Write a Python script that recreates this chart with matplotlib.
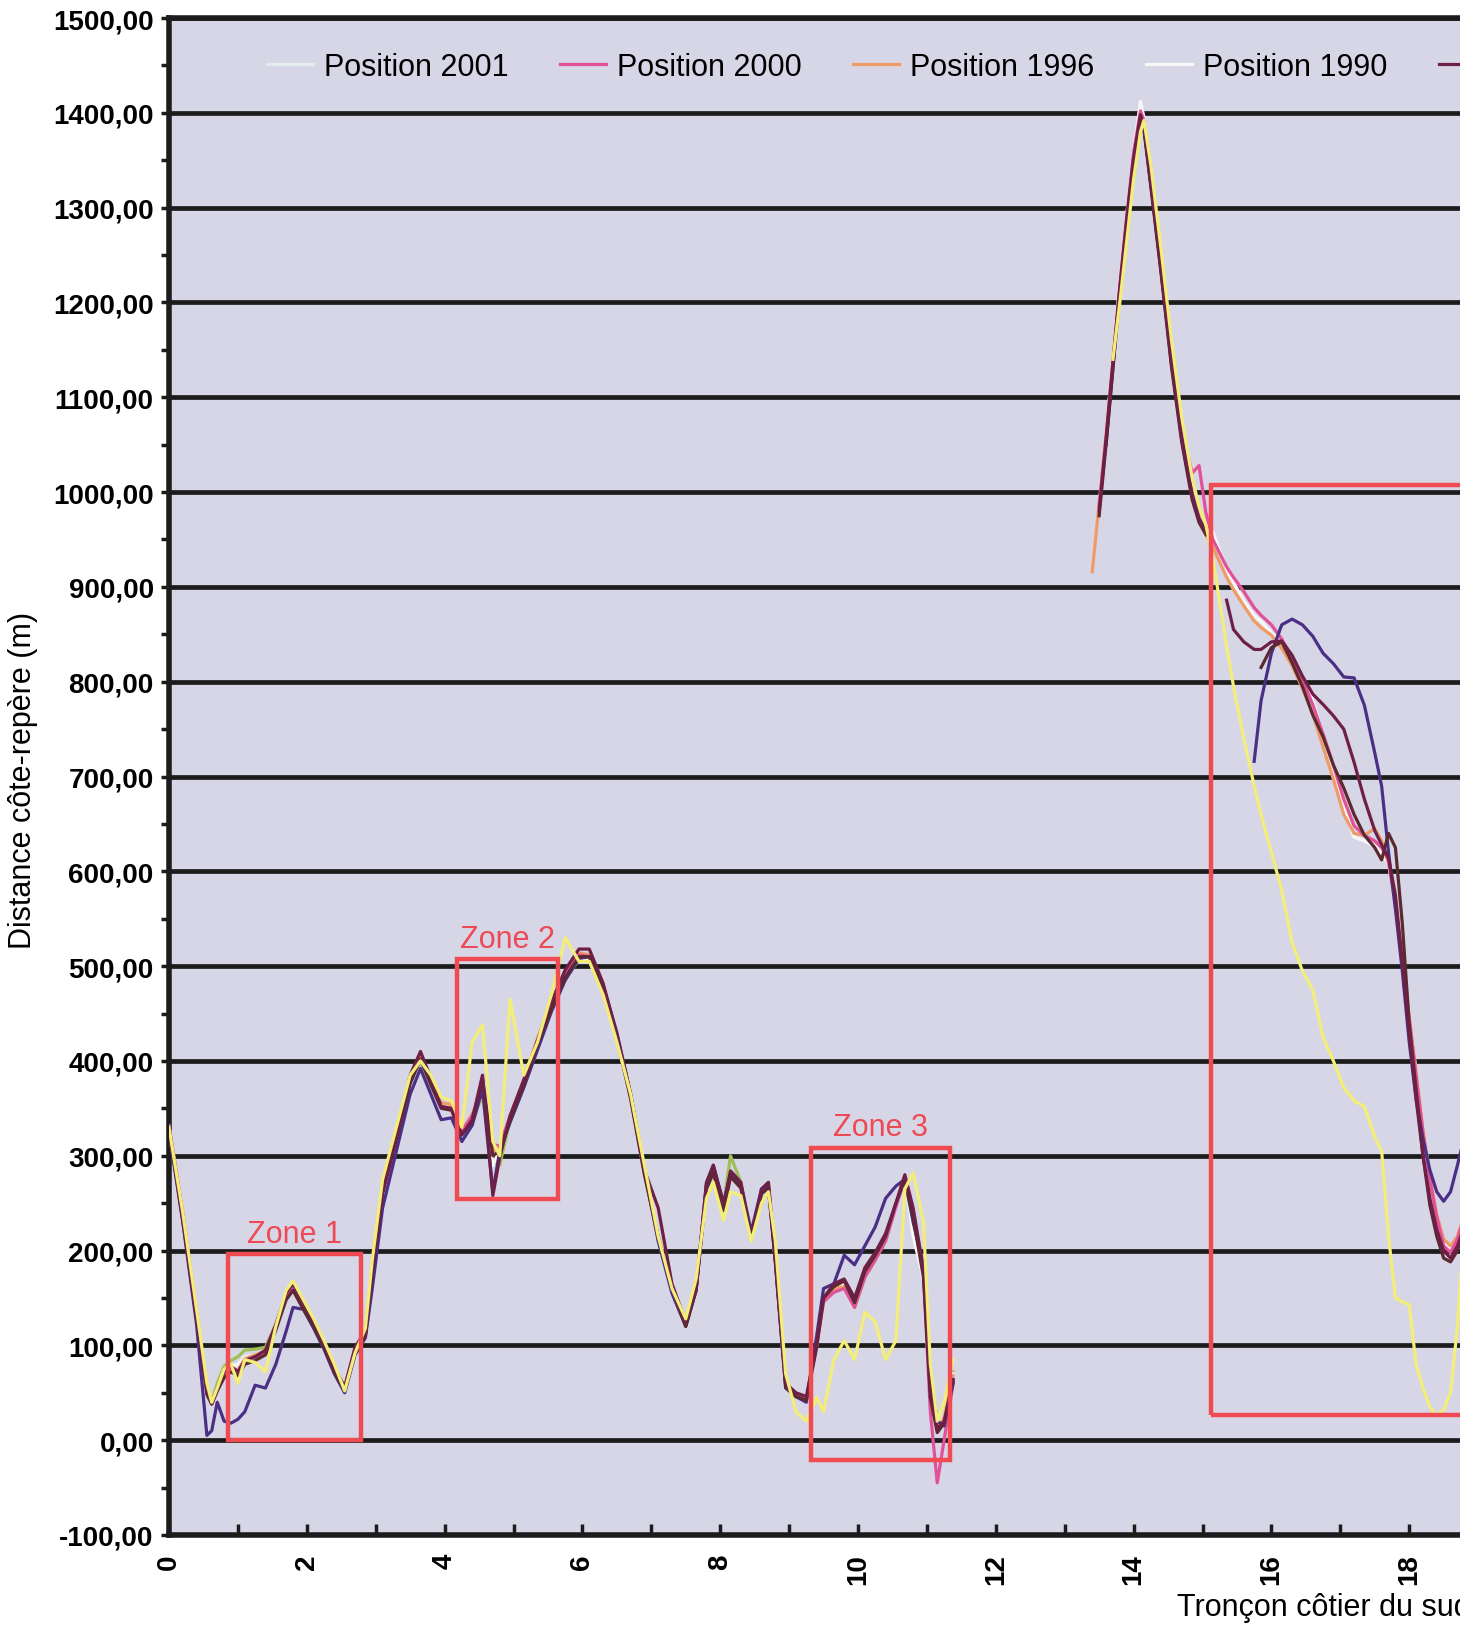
import numpy as np
import matplotlib
matplotlib.use("Agg")
import matplotlib.pyplot as plt
from matplotlib.patches import Rectangle
from matplotlib.ticker import MultipleLocator

plt.rcParams['font.family'] = ['Liberation Sans', 'DejaVu Sans']

# ---- data ----
# first stretch of coast (0 - 11.4)
x1 = [0.0, 0.2, 0.4, 0.55, 0.62, 0.7, 0.8, 0.9, 1.0, 1.1,
      1.25, 1.4, 1.55, 1.7, 1.8, 1.95, 2.1, 2.25, 2.4, 2.55,
      2.7, 2.85, 2.95, 3.1, 3.3, 3.5, 3.65, 3.8, 3.95, 4.1,
      4.25, 4.4, 4.55, 4.7, 4.8, 4.95, 5.15, 5.35, 5.55, 5.75,
      5.95, 6.1, 6.3, 6.5, 6.7, 6.9, 7.1, 7.3, 7.5, 7.65,
      7.8, 7.9, 8.05, 8.15, 8.3, 8.45, 8.6, 8.7, 8.8, 8.95,
      9.1, 9.25, 9.4, 9.5, 9.65, 9.8, 9.95, 10.1, 10.25, 10.4,
      10.55, 10.68, 10.8, 10.95, 11.05, 11.15, 11.25, 11.38]

pos2001_a = [330, 236, 130, 50, 38, 52, 72, 80, 78, 86,
             90, 93, 118, 150, 158, 140, 122, 100, 75, 55,
             95, 112, 178, 265, 322, 380, 403, 376, 354, 352,
             325, 340, 365, 300, 305, 340, 378, 420, 458, 490,
             508, 508, 476, 424, 362, 282, 212, 158, 122, 160,
             266, 283, 244, 280, 266, 218, 262, 268, 190, 58,
             48, 44, 100, 148, 160, 164, 144, 174, 192, 212,
             248, 276, 230, 172, 48, 14, 24, 68]
pos2000_a = [332, 240, 135, 52, 38, 52, 70, 76, 72, 84,
             88, 92, 120, 152, 160, 142, 124, 100, 76, 56,
             96, 112, 182, 268, 325, 382, 402, 376, 352, 350,
             326, 342, 372, 312, 310, 342, 380, 422, 460, 492,
             512, 510, 476, 424, 362, 282, 212, 158, 124, 162,
             266, 282, 244, 278, 266, 218, 260, 266, 190, 60,
             48, 44, 100, 146, 156, 160, 140, 172, 190, 210,
             246, 276, 238, 176, 30, -45, 0, 60]
pos1996_a = [330, 236, 132, 52, 38, 52, 70, 76, 74, 86,
             90, 94, 120, 152, 162, 142, 124, 102, 76, 56,
             96, 112, 180, 266, 324, 382, 404, 378, 356, 354,
             326, 344, 366, 305, 308, 342, 380, 424, 462, 494,
             514, 512, 478, 426, 362, 282, 212, 158, 122, 160,
             268, 284, 246, 280, 268, 218, 262, 268, 190, 58,
             48, 44, 100, 148, 160, 162, 142, 174, 192, 212,
             248, 278, 242, 178, 50, 12, 24, 68]
pos1990_a = [330, 236, 132, 52, 40, 54, 70, 78, 80, 88,
             90, 94, 120, 150, 158, 140, 122, 100, 76, 56,
             96, 112, 178, 264, 322, 380, 402, 378, 356, 352,
             326, 342, 368, 290, 306, 340, 378, 420, 458, 490,
             508, 508, 476, 424, 362, 282, 212, 158, 122, 160,
             266, 282, 244, 280, 266, 218, 262, 268, 190, 58,
             48, 44, 102, 150, 162, 166, 146, 176, 194, 214,
             250, 278, 215, 170, 48, 15, 25, 70]
maroon_a = [328, 232, 128, 52, 40, 55, 72, 78, 72, 84,
            88, 95, 122, 155, 165, 145, 125, 102, 76, 56,
            98, 115, 178, 262, 320, 385, 410, 382, 352, 350,
            322, 338, 385, 258, 298, 342, 380, 422, 462, 496,
            518, 518, 482, 428, 365, 285, 245, 165, 125, 158,
            272, 290, 248, 284, 272, 214, 265, 272, 192, 60,
            50, 46, 102, 150, 165, 170, 150, 182, 198, 218,
            250, 280, 245, 180, 52, 12, 20, 62]
brown_a = [330, 236, 132, 48, 38, 52, 66, 72, 68, 80,
           84, 90, 116, 148, 158, 138, 120, 98, 72, 52,
           92, 110, 176, 260, 318, 376, 402, 375, 350, 348,
           322, 336, 382, 300, 305, 338, 375, 418, 455, 488,
           510, 510, 476, 424, 360, 280, 215, 160, 120, 158,
           265, 282, 242, 278, 266, 215, 260, 266, 188, 56,
           46, 42, 98, 150, 162, 168, 145, 178, 195, 215,
           250, 275, 235, 172, 45, 8, 18, 64]
purple_a = [326, 230, 122, 5, 10, 40, 20, 18, 22, 30,
            58, 55, 80, 115, 140, 138, 118, 96, 70, 50,
            90, 108, 160, 245, 305, 365, 392, 365, 338, 340,
            315, 332, 370, 262, 305, 335, 372, 412, 452, 485,
            508, 510, 480, 430, 365, 285, 210, 155, 120, 158,
            270, 290, 250, 282, 270, 220, 265, 268, 188, 55,
            46, 40, 110, 160, 165, 195, 185, 205, 225, 255,
            268, 275, 230, 185, 70, 20, 15, 60]
green_a = [326, 232, 128, 50, 40, 60, 78, 84, 88, 95,
           96, 98, 122, 152, 158, 140, 122, 100, 76, 52,
           94, 110, 178, 262, 320, 378, 400, 375, 352, 350,
           324, 340, 362, 295, 290, 338, 376, 418, 456, 488,
           506, 506, 474, 424, 362, 282, 212, 158, 122, 160,
           268, 285, 250, 300, 272, 218, 262, 272, 190, 58,
           48, 44, 100, 146, 158, 164, 140, 172, 190, 210,
           248, 275, 236, 176, 50, 14, 25, 72]
yellow_a = [330, 240, 138, 60, 40, 55, 75, 80, 60, 85,
            82, 72, 120, 158, 168, 148, 128, 105, 80, 52,
            92, 118, 190, 275, 330, 385, 400, 385, 362, 358,
            330, 420, 438, 315, 300, 465, 385, 420, 470, 530,
            505, 505, 470, 420, 365, 290, 215, 160, 128, 170,
            255, 272, 232, 262, 258, 210, 250, 262, 210, 70,
            30, 20, 45, 30, 85, 105, 85, 135, 125, 85,
            105, 265, 282, 230, 80, 20, 40, 85]

# second stretch (13.4 - 18.9), None = no survey
x2 = [13.4, 13.5, 13.6, 13.7, 13.8, 13.9, 14.0, 14.1, 14.15, 14.25,
      14.4, 14.55, 14.7, 14.85, 14.95, 15.05, 15.15, 15.35, 15.45, 15.6,
      15.75, 15.85, 16.0, 16.15, 16.3, 16.45, 16.6, 16.75, 16.9, 17.05,
      17.2, 17.35, 17.5, 17.6, 17.7, 17.8, 17.9, 18.0, 18.1, 18.2,
      18.3, 18.4, 18.5, 18.6, 18.7, 18.8, 18.9]

pos2001_b = [None, None, 1058, 1140, 1218, 1290, 1358, 1405, 1392, 1332,
             1240, 1143, 1063, 1004, 980, 966, 955, 915, 903, 884,
             868, 862, 851, 838, 821, 800, 776, 740, 704, 664,
             636, 633, 628, 620, 609, 567, 507, 447, 387, 327,
             276, 235, 208, 201, 214, 236, 262]
pos2000_b = [None, 985, 1058, 1138, 1218, 1290, 1358, 1402, 1392, 1335,
             1242, 1145, 1065, 1020, 1028, 978, 950, 921, 910, 895,
             878, 870, 860, 845, 825, 802, 776, 745, 712, 676,
             648, 638, 632, 625, 612, 565, 505, 445, 385, 325,
             275, 235, 205, 198, 212, 235, 260]
pos1996_b = [916, 988, 1060, 1140, 1218, 1290, 1356, 1398, 1388, 1330,
             1238, 1140, 1060, 1000, 975, 955, 942, 910, 897, 880,
             864, 857, 849, 835, 817, 793, 766, 731, 697, 660,
             640, 638, 645, 632, 608, 566, 508, 448, 388, 328,
             278, 238, 212, 205, 215, 238, 262]
pos1990_b = [None, None, 1060, 1142, 1220, 1292, 1360, 1412, 1395, 1333,
             1240, 1142, 1062, 1003, 978, 965, 958, 918, 905, 885,
             870, 864, 852, 840, 824, 803, 780, 745, 710, 668,
             636, 632, 626, 618, 608, 568, 508, 448, 388, 328,
             276, 234, 207, 200, 214, 236, 262]
maroon_b = [None, 980, 1055, 1136, 1215, 1288, 1352, 1398, 1385, 1325,
            1232, 1135, 1055, 995, 970, 960, None, 886, 855, 842,
            834, 834, 842, 843, 828, 806, 787, 776, 764, 750,
            715, 676, 643, 628, 614, 575, 505, 430, 360, 300,
            255, 222, 200, 192, 205, 225, 250]
brown_b = [None, 975, 1050, 1130, 1210, 1282, 1348, 1395, 1382, 1322,
           1230, 1132, 1052, 992, 968, 955, None, None, None, None,
           None, 815, 836, 842, 820, 795, 765, 742, 712, 688,
           660, 638, 625, 612, 640, 625, 545, 440, 370, 300,
           248, 215, 192, 188, 200, 222, 248]
purple_b = [None, None, 1050, 1132, 1212, 1284, 1350, 1396, 1384, 1326,
            1234, 1138, 1058, 998, 972, 960, None, None, None, None,
            716, 780, 830, 860, 866, 860, 848, 830, 819, 805,
            804, 775, 725, 690, 620, 560, 495, 420, 360, 318,
            285, 262, 252, 262, 290, 320, 340]
yellow_b = [None, None, None, 1140, 1200, 1265, 1330, 1380, 1392, 1345,
            1255, 1160, 1078, 1015, 985, 965, 930, 838, 795, 740,
            690, 660, 620, 580, 525, 495, 475, 425, 400, 372,
            358, 352, 320, 305, 215, 150, 146, 143, 80, 55,
            35, 26, 32, 50, 120, 230, 300]

# zones highlighted in red
zone_names = ["Zone 1", "Zone 2", "Zone 3", ""]
zone_x0 = [0.86, 4.18, 9.32, 15.12]
zone_x1 = [2.78, 5.65, 11.33, 25.0]
zone_y0 = [0, 254, -21, 27]
zone_y1 = [196, 507, 308, 1007]

y_ticks = list(range(-100, 1501, 100))
x_ticks = list(range(0, 21, 2))

# (label, colour, first stretch, second stretch) - drawing order bottom to top
series = [
    ("_green", "#9fbf55", green_a, None),
    ("Position 2001", "#e2ecea", pos2001_a, pos2001_b),
    ("Position 1990", "#f7f7f7", pos1990_a, pos1990_b),
    ("Position 1996", "#f09a66", pos1996_a, pos1996_b),
    ("Position 2000", "#e2509a", pos2000_a, pos2000_b),
    ("_purple", "#4a2f85", purple_a, purple_b),
    ("_brown", "#5a2a30", brown_a, brown_b),
    ("Position 1984", "#6e1f45", maroon_a, maroon_b),
    ("_yellow", "#f2ee78", yellow_a, yellow_b),
]

fig = plt.figure(figsize=(14.6, 16.31), dpi=100)
ax = fig.add_axes([169 / 1460, 95 / 1631, 1378 / 1460, 1517 / 1631])
ax.set_facecolor("#d7d6e7")
ax.set_xlim(0, 20)
ax.set_ylim(-100, 1500)

handles = {}
for name, col, ya, yb in series:
    ln, = ax.plot(x1, np.array(ya, dtype=float), color=col, lw=2.3, zorder=3)
    if yb is not None:
        ax.plot(x2, np.array(yb, dtype=float), color=col, lw=2.3, zorder=3)
    handles[name] = ln

# zones
for nm, a, b, c, d in zip(zone_names, zone_x0, zone_x1, zone_y0, zone_y1):
    ax.add_patch(Rectangle((a, c), b - a, d - c, fill=False, edgecolor="#f04a52",
                           lw=3.2, zorder=4))
    if nm:
        ax.text((a + b) / 2, d + 6, nm, color="#ee4a55", fontsize=22,
                ha="center", va="bottom", zorder=5)

# grid and axes styling
ax.set_yticks(y_ticks, labels=[f"{v:.2f}".replace(".", ",") for v in y_ticks],
              fontweight="bold", fontsize=20)
ax.yaxis.set_minor_locator(MultipleLocator(50))
ax.set_xticks(x_ticks, labels=[str(v) for v in x_ticks], rotation=90,
              fontweight="bold", fontsize=20)
ax.xaxis.set_minor_locator(MultipleLocator(1))
ax.yaxis.grid(True, color="#1c1c1c", lw=3.4, zorder=1)
ax.set_axisbelow(True)
ax.tick_params(axis="y", which="both", direction="out", length=6, width=2.5,
               pad=5, color="#1c1c1c")
ax.tick_params(axis="x", which="both", direction="in", length=8, width=2.5,
               pad=13, color="#1c1c1c")
for s in ["left", "bottom", "top"]:
    ax.spines[s].set_linewidth(4)
    ax.spines[s].set_color("#1c1c1c")
ax.spines["right"].set_visible(False)

ax.set_ylabel("Distance côte-repère (m)", fontsize=22, va="center")
ax.yaxis.set_label_coords(-0.106, 0.498)
ax.set_xlabel("Tronçon côtier du sud (km)", fontsize=22, ha="left", va="center")
ax.xaxis.set_label_coords(0.7315, -0.0475)

leg_names = ["Position 2001", "Position 2000", "Position 1996", "Position 1990",
             "Position 1984"]
fig.legend([handles[n] for n in leg_names], leg_names, ncol=5, loc="center left",
           bbox_to_anchor=(0.183, 0.9585), frameon=False, fontsize=22,
           handlelength=1.5, handletextpad=0.35, columnspacing=1.7,
           borderpad=0, borderaxespad=0)

fig.savefig("out.png", dpi=100)
